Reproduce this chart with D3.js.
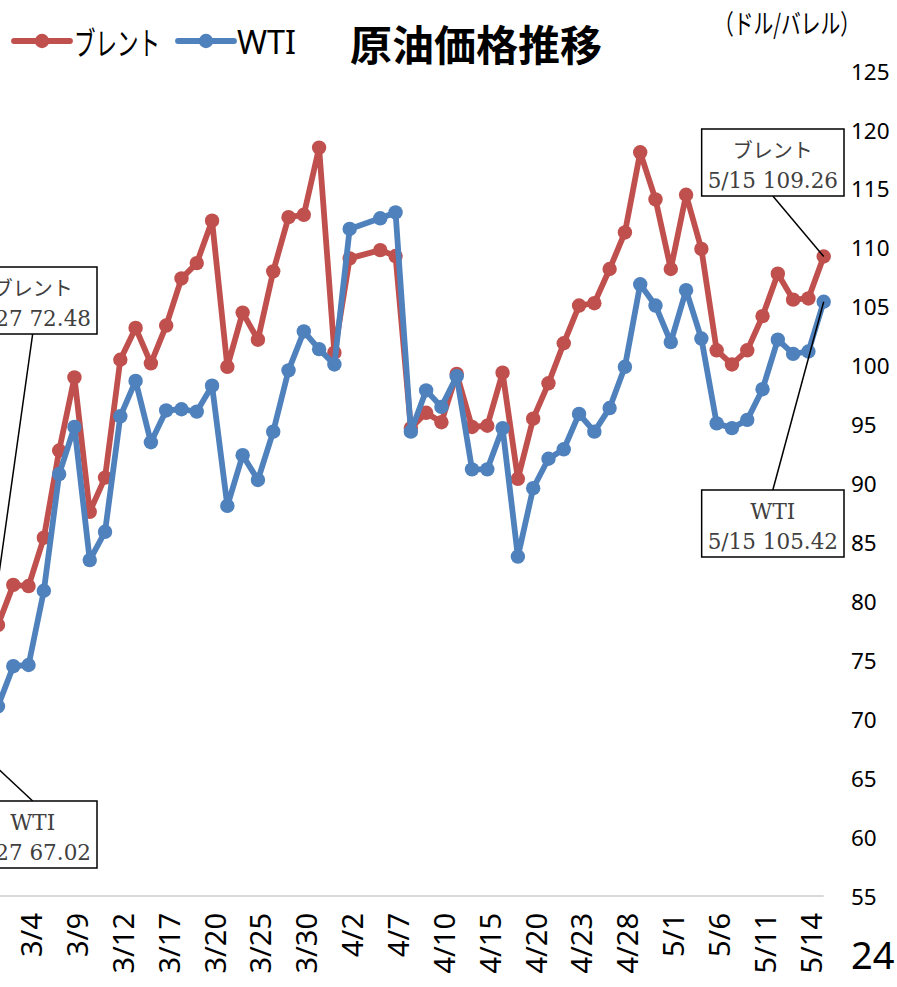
<!DOCTYPE html>
<html><head><meta charset="utf-8">
<script src="https://cdn.jsdelivr.net/npm/d3@7"></script>
<style>
html,body{margin:0;padding:0;background:#fff;}
svg{display:block;}
</style>
</head><body>
<svg id="chart" width="897" height="987"></svg>
<script>
// ---- data ----
const dates = ["2/27","3/2","3/3","3/4","3/5","3/6","3/9","3/10","3/11","3/12","3/13","3/16","3/17","3/18","3/19","3/20","3/23","3/24","3/25","3/26","3/27","3/30","3/31","4/1","4/2","4/3","4/6","4/7","4/8","4/9","4/10","4/13","4/14","4/15","4/16","4/17","4/20","4/21","4/22","4/23","4/24","4/27","4/28","4/29","4/30","5/1","5/4","5/5","5/6","5/7","5/8","5/11","5/12","5/13","5/14","5/15"];
const brent = [72.48,78.0,81.4,81.3,85.4,92.8,99.0,87.6,90.5,100.5,103.2,100.2,103.4,107.4,108.7,112.3,99.9,104.5,102.2,108.0,112.6,112.8,118.5,101.1,109.1,null,109.8,109.3,94.7,96.0,95.2,99.3,94.8,94.9,99.4,90.4,95.5,98.5,101.9,105.1,105.3,108.2,111.3,118.1,114.1,108.2,114.5,109.9,101.3,100.1,101.3,104.2,107.8,105.6,105.7,109.26];
const wti = [67.02,71.1,74.5,74.6,80.9,90.8,94.8,83.5,85.9,95.7,98.7,93.5,96.2,96.3,96.1,98.3,88.1,92.4,90.3,94.4,99.6,102.9,101.4,100.1,111.6,null,112.5,113.0,94.4,97.9,96.5,99.1,91.2,91.2,94.7,83.8,89.6,92.1,92.9,95.9,94.4,96.4,99.9,106.9,105.1,102.0,106.4,102.3,95.1,94.7,95.4,98.0,102.2,101.0,101.2,105.42];
const yTicks = [55,60,65,70,75,80,85,90,95,100,105,110,115,120,125];
const xTickLabels = dates.filter((d,i)=>i%3===0);
const seriesNames = ["ブレント","WTI"];
const title = "原油価格推移";
const unitLabel = "（ドル/バレル）";
const pageNo = "24";

const colors = {"ブレント":"#C0504D","WTI":"#4F81BD"};
const SANS = "'Noto Sans', 'Open Sans', sans-serif";
const CJK = "'Noto Sans CJK JP', 'Noto Sans', sans-serif";
const SERIF = "'DejaVu Serif', serif";

const svg = d3.select("#chart");
const x = d3.scalePoint().domain(dates).range([-17.3, 823.7]);
const y = d3.scaleLinear().domain([55,125]).range([896,71]);

// baseline gridline
svg.append("line").attr("x1",-40).attr("x2",x(dates[dates.length-1]))
  .attr("y1",y(55)).attr("y2",y(55)).attr("stroke","#d9d9d9").attr("stroke-width",2);

// y axis (right)
const yAx = svg.append("g").attr("transform","translate(851,0)")
  .call(d3.axisRight(y).tickValues(yTicks).tickSize(0).tickPadding(0));
yAx.select(".domain").remove();
yAx.selectAll("text").attr("x",0).attr("dy","0.36em")
  .style("font-family",SANS).style("font-size","22.5px").attr("fill","#000");

// x axis
const xAx = svg.append("g").attr("transform",`translate(0,${y(55)})`)
  .call(d3.axisBottom(x).tickValues(xTickLabels).tickSize(0));
xAx.select(".domain").remove();
xAx.selectAll("text").attr("transform","rotate(-90)")
  .attr("x",-17).attr("y",2.5).attr("dy","0.36em").style("text-anchor","end")
  .style("font-family",SANS).style("font-size","29px").attr("fill","#000");

// series
const series = [
  {name:"ブレント", values:brent},
  {name:"WTI", values:wti}
];
const line = d3.line().x(d=>x(d.date)).y(d=>y(d.v));
series.forEach(s=>{
  const pts = dates.map((d,i)=>({date:d, v:s.values[i]})).filter(p=>p.v!==null);
  const g = svg.append("g");
  g.append("path").datum(pts).attr("d",line).attr("fill","none")
    .attr("stroke",colors[s.name]).attr("stroke-width",5.8).attr("stroke-linejoin","round");
  g.selectAll("circle").data(pts).join("circle")
    .attr("cx",d=>x(d.date)).attr("cy",d=>y(d.v)).attr("r",7.2).attr("fill",colors[s.name]);
});

// annotations
function annot(name, idx, boxX, boxTop, anchorSide, leaderFrom) {
  const v = series.find(s=>s.name===name).values[idx];
  const px = x(dates[idx]), py = y(v);
  const g = svg.append("g");
  const leader = g.append("line").attr("stroke","#000").attr("stroke-width",1.5);
  const rect = g.append("rect").attr("fill","#fff").attr("stroke","#000").attr("stroke-width",1.5);
  const t1 = g.append("text").text(name).attr("text-anchor","middle")
    .style("font-family", name==="WTI"?SERIF:CJK).style("font-size", name==="WTI"?"21.5px":"20px").attr("fill","#404040");
  const t2 = g.append("text").text(dates[idx]+" "+v.toFixed(2)).attr("text-anchor","middle")
    .style("font-family",SERIF).style("font-size","21.5px").attr("fill","#404040");
  const w = t2.node().getComputedTextLength() + 12;
  const h = 67;
  const left = anchorSide==="right" ? boxX - w : boxX;
  const cx = left + w/2;
  rect.attr("x",left).attr("y",boxTop).attr("width",w).attr("height",h);
  t1.attr("x",cx).attr("y",boxTop+29);
  t2.attr("x",cx).attr("y",boxTop+59);
  const ly = leaderFrom==="bottom" ? boxTop+h : boxTop;
  leader.attr("x1",cx).attr("y1",ly).attr("x2",px).attr("y2",py);
}
annot("ブレント", 0, 97, 267, "right", "bottom");
annot("WTI", 0, 97, 801, "right", "top");
annot("ブレント", dates.length-1, 844, 129, "right", "bottom");
annot("WTI", dates.length-1, 844, 490, "right", "top");

// legend
const legend = svg.append("g");
const legendItems = [{name:"ブレント", x0:14, tx:74, tw:86},{name:"WTI", x0:178, tx:237, tw:59}];
legendItems.forEach(it=>{
  legend.append("line").attr("x1",it.x0).attr("x2",it.x0+56).attr("y1",41).attr("y2",41)
    .attr("stroke",colors[it.name]).attr("stroke-width",5.8).attr("stroke-linecap","round");
  legend.append("circle").attr("cx",it.x0+28).attr("cy",41).attr("r",7.2).attr("fill",colors[it.name]);
  const t = legend.append("text").text(it.name).attr("x",it.tx).attr("y",41).attr("dominant-baseline","central")
    .style("font-family", it.name==="WTI"?SANS:CJK).style("font-size","32px").attr("fill","#000");
  t.attr("textLength",it.tw).attr("lengthAdjust","spacingAndGlyphs");
});

// title
svg.append("text").text(title).attr("x",476).attr("y",42).attr("text-anchor","middle")
  .attr("dominant-baseline","central").style("font-family",CJK).style("font-weight","bold")
  .style("font-size","42px").attr("fill","#000");

// unit
svg.append("text").text(unitLabel).attr("x",714).attr("y",22).attr("dominant-baseline","central")
  .style("font-family",CJK).style("font-size","27px").attr("fill","#000")
  .attr("textLength",146).attr("lengthAdjust","spacingAndGlyphs");

// page number
svg.append("text").text(pageNo).attr("x",851).attr("y",969)
  .style("font-family",SANS).style("font-size","38px").attr("fill","#000");
</script>
</body></html>
